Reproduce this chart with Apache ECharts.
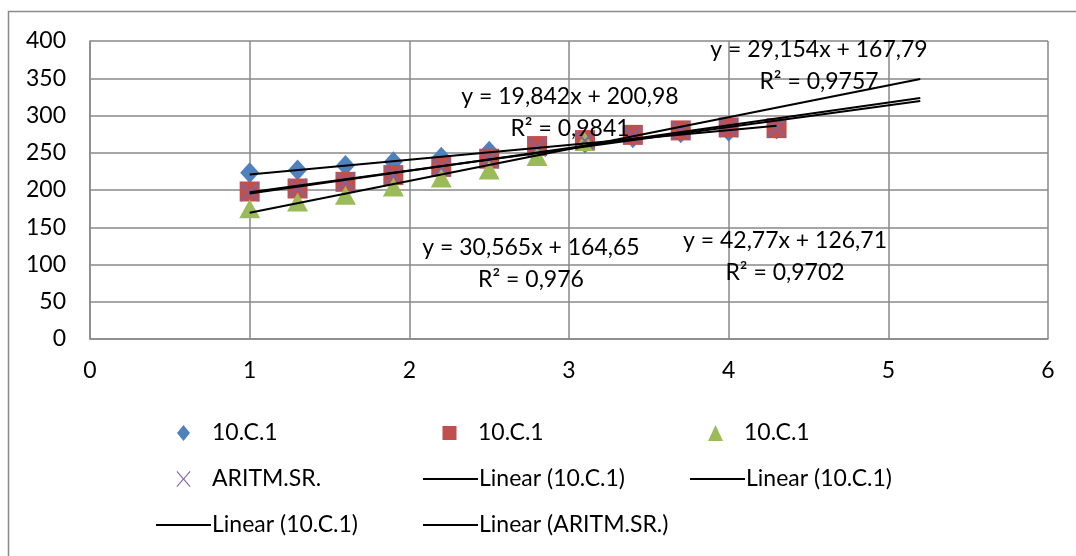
<!DOCTYPE html>
<html>
<head>
<meta charset="utf-8">
<script src="https://cdn.jsdelivr.net/npm/echarts@6/dist/echarts.min.js"></script>
<style>html,body{margin:0;padding:0;background:#fff;}#c{width:1076px;height:556px;}</style>
</head>
<body>
<div id="c"></div>
<script>
// ---- data ----
const xValues = [1, 1.3, 1.6, 1.9, 2.2, 2.5, 2.8, 3.1, 3.4, 3.7, 4.0, 4.3];
const seriesBlue  = [223, 227, 233, 238, 244, 252, 257, 263, 270, 277, 279, 282];
const seriesRed   = [198, 202, 211, 220, 231, 242, 259, 267, 274, 280, 284, 283];
const seriesGreen = [175, 184, 193, 204, 216, 227, 245, 265];
const seriesAritm = [197, 203, 211, 220, 230, 242, 257, 266, 273, 280, 283, 283];

const pointNames = ['10.C.1', '10.C.1', '10.C.1', 'ARITM.SR.'];
const trendNames = ['Linear (10.C.1)', 'Linear (10.C.1)', 'Linear (10.C.1)', 'Linear (ARITM.SR.)'];
// trendline coefficients (slope, intercept) and drawn x-range, as printed on the chart
const trendSlope     = [19.842, 30.565, 42.77, 29.154];
const trendIntercept = [200.98, 164.65, 126.71, 167.79];
const trendFrom      = [1, 1, 1, 1];
const trendTo        = [4.3, 5.2, 5.2, 5.2];
const trendEquations = ['y = 19,842x + 200,98', 'y = 30,565x + 164,65', 'y = 42,77x + 126,71', 'y = 29,154x + 167,79'];
const trendR2        = ['R² = 0,9841', 'R² = 0,976', 'R² = 0,9702', 'R² = 0,9757'];

const xTicks = [0, 1, 2, 3, 4, 5, 6];
const yTicks = [0, 50, 100, 150, 200, 250, 300, 350, 400];

// ---- styling ----
const FONT = 'Lato';
const FS = 23;
const colors = ['#4F81BD', '#C0504D', '#9BBB59', '#8064A2'];
const XPATH = 'path://M0,0.7 L0.7,0 L5,4.3 L9.3,0 L10,0.7 L5.7,5 L10,9.3 L9.3,10 L5,5.7 L0.7,10 L0,9.3 L4.3,5 Z';
const symbols = ['diamond', 'rect', 'triangle', XPATH];
const symbolSizes = [[19, 21], [20, 20], [21, 19], [19, 19]];
const pointData = [seriesBlue, seriesRed, seriesGreen, seriesAritm];

// legend icons drawn in a 55x16 box (extent markers keep the shape centred, unstretched)
const EXT = 'M0,8 L0.01,8 L0,8.01 Z M55,8 L54.99,8 L55,8.01 Z ';
const legendIcons = [
  'path://' + EXT + 'M27.5,0 L34,8 L27.5,16 L21,8 Z',
  'path://' + EXT + 'M20.5,1 L34.5,1 L34.5,15 L20.5,15 Z',
  'path://' + EXT + 'M27.5,0 L35,16 L20,16 Z',
  'path://' + EXT + 'M20.5,0.8 L21.3,0 L27.5,7.2 L33.7,0 L34.5,0.8 L28.3,8 L34.5,15.2 L33.7,16 L27.5,8.8 L21.3,16 L20.5,15.2 L26.7,8 Z'
];

const series = [];
const legendData = [];
pointData.forEach((arr, i) => {
  const nm = pointNames[i] + '|' + i;
  series.push({
    name: nm,
    type: 'scatter',
    data: arr.map((v, k) => [xValues[k], v]),
    symbol: symbols[i],
    symbolSize: symbolSizes[i],
    itemStyle: { color: colors[i], opacity: 1 },
    emphasis: { disabled: true },
    silent: true,
    z: 2 + i * 0.01
  });
  legendData.push({ name: nm, icon: legendIcons[i], itemStyle: { color: colors[i] } });
});
trendSlope.forEach((a, i) => {
  const b = trendIntercept[i];
  const nm = trendNames[i] + '|' + (i + 4);
  series.push({
    name: nm,
    type: 'line',
    data: [[trendFrom[i], a * trendFrom[i] + b], [trendTo[i], a * trendTo[i] + b]],
    symbol: 'none',
    lineStyle: { color: '#000', width: 2 },
    itemStyle: { color: '#000' },
    emphasis: { disabled: true },
    silent: true,
    z: 3
  });
  legendData.push({ name: nm, itemStyle: { opacity: 0 }, lineStyle: { color: '#000', width: 2 } });
});

// label anchor positions (pixels)
const labelPos = [[570, 113], [531, 264], [785, 257], [819, 66]];

const chart = echarts.init(document.getElementById('c'), null, { renderer: 'canvas' });
chart.setOption({
  backgroundColor: '#fff',
  animation: false,
  textStyle: { fontFamily: FONT },
  grid: { left: 90, top: 41, right: 28, bottom: 217, containLabel: false },
  xAxis: {
    type: 'value', min: xTicks[0], max: xTicks[xTicks.length - 1], interval: 1,
    axisLine: { show: true, lineStyle: { color: '#888', width: 1.5 } },
    axisTick: { show: false },
    splitLine: { show: true, lineStyle: { color: '#888', width: 1.5 } },
    axisLabel: { color: '#000', fontSize: FS, fontFamily: FONT, margin: 20 }
  },
  yAxis: {
    type: 'value', min: yTicks[0], max: yTicks[yTicks.length - 1], interval: 50,
    axisLine: { show: true, lineStyle: { color: '#888', width: 1.5 } },
    axisTick: { show: false },
    splitLine: { show: true, lineStyle: { color: '#888', width: 1.5 } },
    axisLabel: { color: '#000', fontSize: FS, fontFamily: FONT, margin: 24 }
  },
  legend: {
    left: 150, top: 415, width: 800,
    orient: 'horizontal',
    itemWidth: 55, itemHeight: 16, itemGap: 20,
    selectedMode: false,
    formatter: n => n.split('|')[0],
    textStyle: { color: '#000', fontSize: FS, fontFamily: FONT, width: 190, lineHeight: 26, padding: [0, 0, 0, -4] },
    data: legendData
  },
  graphic: [
    { type: 'rect', shape: { x: 8.5, y: 11.5, width: 1200, height: 700 },
      style: { fill: 'none', stroke: '#8a8a8a', lineWidth: 1.5 }, silent: true, z: 0 }
  ].concat(labelPos.map((p, i) => ({
    type: 'text', x: p[0], y: p[1], z: 100,
    style: { text: trendEquations[i] + '\n' + trendR2[i], fill: '#000',
      font: FS + 'px ' + FONT, align: 'center', verticalAlign: 'middle', lineHeight: 32 }
  }))),
  series: series
});
</script>
</body>
</html>
